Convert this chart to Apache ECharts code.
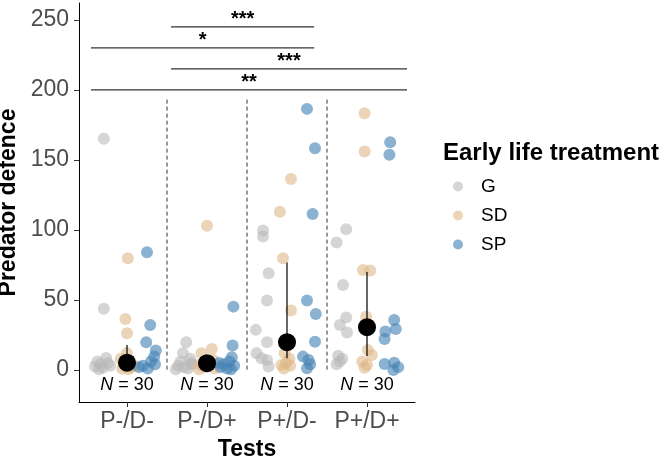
<!DOCTYPE html>
<html>
<head>
<meta charset="utf-8">
<script src="https://cdn.jsdelivr.net/npm/echarts@6/dist/echarts.min.js"></script>
<style>
  html, body { margin: 0; padding: 0; background: #fff; }
  #chart { width: 661px; height: 460px; }
</style>
</head>
<body>
<div id="chart"></div>
<script>
const tests = ['P-/D-', 'P-/D+', 'P+/D-', 'P+/D+'];
const groups = ['G', 'SD', 'SP'];
const yTicks = [0, 50, 100, 150, 200, 250];

// one list per test
const gValues = [
  [165, 43.6, 8.5, 6, 4, 2.5, 1.5, 3, 0.5, 5],
  [19.8, 12, 8, 6, 4, 3, 2, 1, 0.5, 5],
  [99.5, 95.2, 69, 49.5, 28.6, 19.8, 11.9, 8.3, 7.1, 2.4],
  [100.5, 91, 60.7, 37.4, 32, 26.7, 10.2, 6, 8, 4],
];
const sdValues = [
  [79.8, 36.4, 26.2, 12, 8, 4, 2, 1, 0.5, 3],
  [102.9, 15, 11.9, 7, 4, 3, 2, 1, 0.5, 5],
  [136.4, 113, 79.8, 42.4, 11.9, 8, 3.6, 2.9, 5, 1],
  [183.3, 156, 71.4, 71, 38, 14.3, 10.7, 6, 3.6, 1.5],
];
const spValues = [
  [84, 32, 19.8, 13.8, 9.5, 6, 3, 2, 1, 4],
  [45.2, 17.4, 9, 6, 4, 2, 1, 0.5, 3, 5],
  [186.4, 158.3, 111.4, 49.5, 40, 20.2, 9.5, 7.1, 1.2, 4],
  [162.6, 153.6, 35.7, 29.3, 27.4, 22.1, 5.2, 4.3, 0, 2],
];
// jitter (in category units) of each point above, as seen in the picture
const gJitter = [
  [-0.04, -0.04, -0.01, -0.12, -0.08, -0.15, -0.05, 0.04, -0.1, 0.01],
  [-0.01, -0.05, 0.04, -0.08, 0.06, -0.11, -0.04, 0.01, -0.14, 0.05],
  [-0.05, -0.05, 0.02, 0, -0.14, 0, -0.13, -0.07, 0, 0.02],
  [-0.01, -0.13, -0.05, -0.01, -0.09, 0, -0.11, -0.09, -0.06, -0.13],
];
const sdJitter = [
  [0.01, -0.02, 0, 0, -0.08, -0.04, 0.05, -0.06, 0.02, 0.09],
  [0, 0.06, -0.07, 0.08, -0.09, 0.03, -0.03, 0.1, -0.1, -0.04],
  [0.05, -0.09, -0.05, 0.05, -0.03, 0.03, -0.07, 0.04, -0.01, -0.04],
  [-0.03, -0.03, -0.05, 0.04, -0.01, 0.01, 0.06, -0.06, 0, -0.03],
];
const spJitter = [
  [0, 0.04, -0.01, 0.11, 0.09, 0.05, -0.05, -0.1, 0.01, 0.1],
  [0.08, 0.07, 0.06, 0.03, -0.04, -0.08, 0, 0.05, 0.09, -0.1],
  [0, 0.1, 0.07, 0, 0.11, 0.1, -0.05, 0.02, 0, 0.04],
  [0.04, 0.03, 0.09, 0.11, -0.02, -0.03, 0.09, -0.03, 0.08, 0.14],
];

const meanValues = [5.2, 4.8, 19.8, 30.5];
const errLow = [0, 1, 8.3, 10];
const errHigh = [17.8, 10, 76.7, 70];
const nCounts = [30, 30, 30, 30];

const sigFrom = [1.55, 0.55, 1.55, 0.55];
const sigTo = [3.34, 3.34, 4.5, 4.5];
const sigY = [245, 230, 215, 200];
const sigLabels = ['***', '*', '***', '**'];

const separators = [1.5, 2.5, 3.5];

const FONT = 'Liberation Sans, Arial, sans-serif';
const dodge = {G: -0.25, SD: 0, SP: 0.25};
const colors = {
  G: 'rgba(185,185,185,0.6)',
  SD: 'rgba(222,184,135,0.6)',
  SP: 'rgba(70,130,180,0.62)',
};

function points(name, values, jitter) {
  const out = [];
  values.forEach((list, t) => {
    list.forEach((v, i) => out.push([t + 1 + dodge[name] + jitter[t][i], v]));
  });
  return out;
}

function groupSeries(name, values, jitter) {
  return {
    name: name,
    type: 'scatter',
    data: points(name, values, jitter),
    symbol: 'circle',
    symbolSize: 12,
    itemStyle: {color: colors[name], opacity: 1},
    emphasis: {disabled: true},
    z: 3,
  };
}

const chart = echarts.init(document.getElementById('chart'), null, {renderer: 'canvas'});

chart.setOption({
  animation: false,
  textStyle: {fontFamily: FONT},
  title: {
    text: 'Early life treatment',
    left: 443,
    top: 141,
    padding: 0,
    textStyle: {fontSize: 24, fontWeight: 'bold', color: '#000', fontFamily: FONT},
  },
  legend: {
    data: groups,
    orient: 'vertical',
    left: 453,
    top: 172,
    padding: 0,
    itemGap: 0,
    itemWidth: 36,
    itemHeight: 10,
    icon: 'circle',
    textStyle: {fontSize: 19, color: '#000', lineHeight: 29, fontFamily: FONT},
  },
  grid: {left: 79, right: 246, top: 3, bottom: 58, containLabel: false, outerBoundsMode: 'none'},
  xAxis: {
    type: 'value',
    min: 0.4,
    max: 4.6,
    axisLine: {show: true, onZero: false, lineStyle: {color: '#000', width: 1}},
    axisTick: {show: true, customValues: [1, 2, 3, 4], length: 5, lineStyle: {color: '#333'}},
    axisLabel: {
      customValues: [1, 2, 3, 4],
      formatter: (v) => tests[Math.round(v) - 1],
      fontSize: 23,
      color: '#4d4d4d',
      margin: 8,
      fontFamily: FONT,
    },
    splitLine: {show: false},
    name: 'Tests',
    nameLocation: 'middle',
    nameGap: 34,
    nameTextStyle: {fontSize: 23, fontWeight: 'bold', color: '#000', fontFamily: FONT},
  },
  yAxis: {
    type: 'value',
    min: -22.9,
    max: 262,
    axisLine: {show: true, onZero: false, lineStyle: {color: '#000', width: 1}},
    axisTick: {show: true, customValues: yTicks, length: 5, lineStyle: {color: '#333'}},
    axisLabel: {customValues: yTicks, fontSize: 23, color: '#4d4d4d', margin: 10, fontFamily: FONT},
    splitLine: {show: false},
    name: 'Predator defence',
    nameLocation: 'middle',
    nameGap: 52,
    nameTextStyle: {fontSize: 23, fontWeight: 'bold', color: '#000', fontFamily: FONT},
  },
  series: [
    {
      type: 'custom',
      data: separators.map((x) => [x]),
      clip: false,
      z: 1,
      renderItem: (params, api) => {
        const top = api.coord([api.value(0), 193]);
        const bot = api.coord([api.value(0), 0]);
        return {
          type: 'line',
          shape: {x1: top[0], y1: top[1], x2: bot[0], y2: bot[1]},
          style: {stroke: '#333', lineWidth: 1, lineDash: [4, 3]},
        };
      },
    },
    groupSeries('G', gValues, gJitter),
    groupSeries('SD', sdValues, sdJitter),
    groupSeries('SP', spValues, spJitter),
    {
      type: 'custom',
      data: meanValues.map((m, i) => [i + 1, errLow[i], errHigh[i]]),
      z: 4,
      renderItem: (params, api) => {
        const lo = api.coord([api.value(0), api.value(1)]);
        const hi = api.coord([api.value(0), api.value(2)]);
        return {
          type: 'line',
          shape: {x1: lo[0], y1: lo[1], x2: hi[0], y2: hi[1]},
          style: {stroke: '#000', lineWidth: 1.2},
        };
      },
    },
    {
      type: 'scatter',
      data: meanValues.map((m, i) => [i + 1, m]),
      symbol: 'circle',
      symbolSize: 18,
      itemStyle: {color: '#000', opacity: 1},
      emphasis: {disabled: true},
      z: 5,
    },
    {
      type: 'custom',
      data: sigY.map((y, i) => [sigFrom[i], sigTo[i], y, i]),
      clip: false,
      z: 4,
      renderItem: (params, api) => {
        const a = api.coord([api.value(0), api.value(2)]);
        const b = api.coord([api.value(1), api.value(2)]);
        return {
          type: 'group',
          children: [
            {
              type: 'line',
              shape: {x1: a[0], y1: a[1], x2: b[0], y2: b[1]},
              style: {stroke: '#333', lineWidth: 1.2},
            },
            {
              type: 'text',
              style: {
                x: (a[0] + b[0]) / 2,
                y: a[1] - 7.5,
                text: sigLabels[api.value(3)],
                fill: '#000',
                font: 'bold 20px ' + FONT,
                align: 'center',
                verticalAlign: 'middle',
              },
            },
          ],
        };
      },
    },
    {
      type: 'custom',
      data: nCounts.map((n, i) => [i + 1, n]),
      clip: false,
      z: 6,
      renderItem: (params, api) => {
        const p = api.coord([api.value(0), -11]);
        return {
          type: 'text',
          style: {
            x: p[0],
            y: p[1],
            text: '{i|N} = ' + api.value(1),
            fill: '#000',
            fontSize: 18,
            fontFamily: FONT,
            align: 'center',
            verticalAlign: 'middle',
            rich: {i: {fontStyle: 'italic', fontSize: 18, fontFamily: FONT, fill: '#000'}},
          },
        };
      },
    },
  ],
});
</script>
</body>
</html>
